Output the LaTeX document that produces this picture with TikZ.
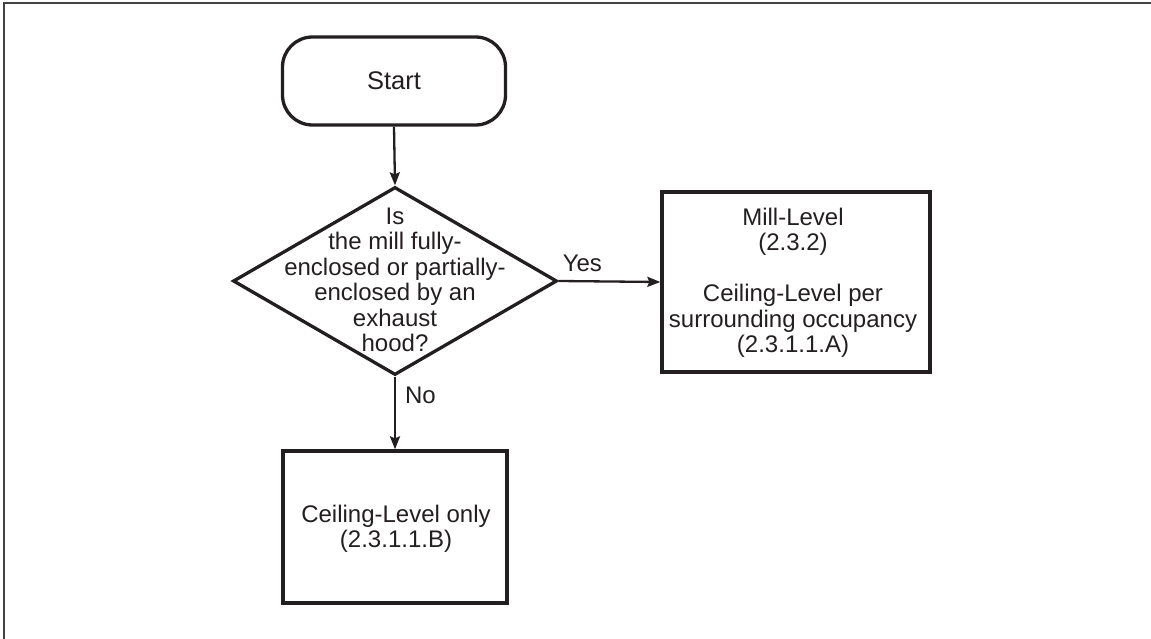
\documentclass[tikz,border=0pt]{standalone}
\usepackage{fontspec}
\setmainfont{Liberation Sans}
\usetikzlibrary{shapes.geometric,arrows.meta}
\definecolor{ink}{HTML}{231F20}
\begin{document}
\begin{tikzpicture}[x=1pt,y=-1pt,
  txt/.style={font=\fontsize{24}{25.5}\selectfont, text=ink, align=center, inner sep=0pt},
  boxline/.style={draw=ink, line width=3.3pt},
  conn/.style={draw=ink, line width=2.3pt, -{Stealth[length=13pt,width=10pt,inset=2pt]}},
  lbl/.style={font=\fontsize{24}{25.5}\selectfont, text=ink, inner sep=0pt}]
\useasboundingbox (0,0) rectangle (1151,639);
% frame (top and left edges only)
\draw[ink!85, line width=2.5pt] (4,639) -- (4,3) -- (1151,3);
% nodes
\node[boxline, rectangle, rounded corners=30pt, minimum width=223pt, minimum height=88pt, inner sep=0pt] (start) at (394,81) {};
\node[txt, font=\fontsize{25.5}{27}\selectfont] (starttxt) at (394,81) {Start};
\node[boxline, diamond, minimum width=324pt, minimum height=188pt, inner sep=0pt] (dec) at (395,281) {};
\node[txt] (dectxt) at (395,280) {Is\\the mill fully-\\enclosed or partially-\\enclosed by an\\exhaust\\hood?};
\node[boxline, rectangle, minimum width=268pt, minimum height=180pt, inner sep=0pt] (mill) at (796,282) {};
\node[txt] (milltxt) at (793,283) {Mill-Level\\(2.3.2)\\[25.5pt]Ceiling-Level per\\surrounding occupancy\\(2.3.1.1.A)};
\node[boxline, rectangle, minimum width=224pt, minimum height=152pt, inner sep=0pt] (ceil) at (395,527) {};
\node[txt] (ceiltxt) at (396,529) {Ceiling-Level only\\(2.3.1.1.B)};
% connectors
\draw[conn] (start.south) -- (dec.north);
\draw[conn] (dec.east) -- (mill.west) node[lbl, pos=0, anchor=base west, xshift=3pt, yshift=10pt] {Yes};
\draw[conn] (dec.south) -- (ceil.north) node[lbl, pos=0, anchor=base west, xshift=9pt, yshift=-27pt] {No};
\end{tikzpicture}
\end{document}
